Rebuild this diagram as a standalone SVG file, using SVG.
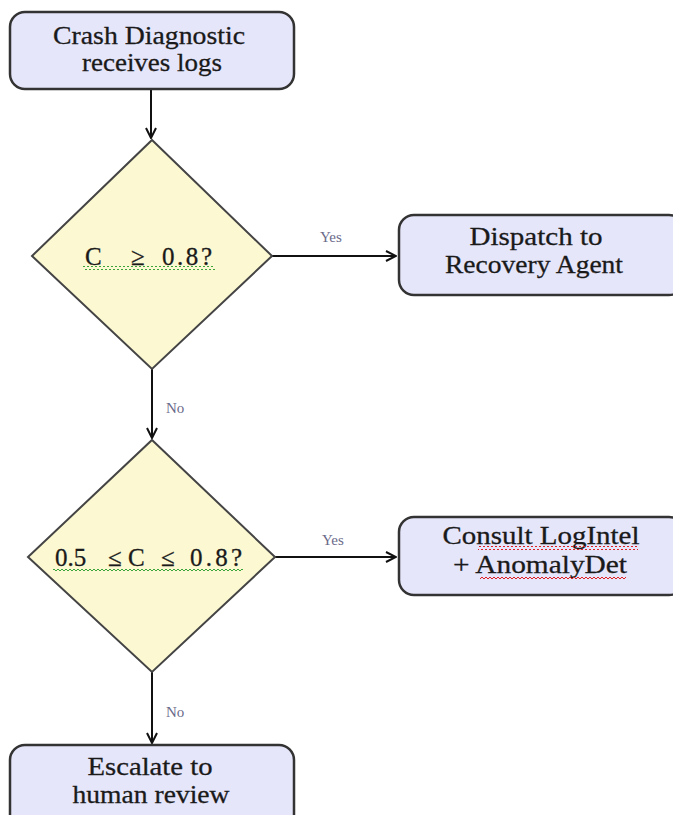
<svg xmlns="http://www.w3.org/2000/svg" width="673" height="815" viewBox="0 0 673 815">
  <style>
    .box { fill: #e6e6fb; stroke: #333; stroke-width: 2.5; }
    .dia { fill: #fbf8d2; stroke: #444; stroke-width: 2; }
    .lbl { font-family: "Liberation Serif", "Times New Roman", serif; font-size: 26px; fill: #1a1a1a; stroke: #1a1a1a; stroke-width: 0.3; text-anchor: middle; }
    .math { font-family: "Liberation Serif", "Times New Roman", serif; font-size: 25px; fill: #1a1a1a; stroke: #1a1a1a; stroke-width: 0.3; }
    .edge { font-family: "Liberation Serif", "Times New Roman", serif; font-size: 15px; fill: #6a6a8a; }
    .conn { stroke: #111; stroke-width: 2; fill: none; marker-end: url(#arrow); }
  </style>
  <defs>
    <marker id="arrow" viewBox="0 0 12 12" refX="11" refY="6" markerWidth="12" markerHeight="12" markerUnits="userSpaceOnUse" orient="auto">
      <path d="M1,1 L11,6 L1,11" fill="none" stroke="#111" stroke-width="2"/>
    </marker>
    <!-- wavy underlines -->
    <pattern id="waveG" width="4" height="4" patternUnits="userSpaceOnUse">
      <path d="M0,3 L2,1 L4,3" fill="none" stroke="#3aa33a" stroke-width="1"/>
    </pattern>
    <pattern id="waveR" width="4" height="4" patternUnits="userSpaceOnUse">
      <path d="M0,3 L2,1 L4,3" fill="none" stroke="#e02020" stroke-width="1"/>
    </pattern>
  </defs>

  <g id="connectors">
    <line class="conn" x1="151" y1="90" x2="151" y2="138"/>
    <line class="conn" x1="272" y1="256" x2="396" y2="256"/>
    <text class="edge" x="320" y="242">Yes</text>
    <line class="conn" x1="152" y1="369" x2="152" y2="438"/>
    <text class="edge" x="166" y="413">No</text>
    <line class="conn" x1="275" y1="557" x2="396" y2="557"/>
    <text class="edge" x="322" y="545">Yes</text>
    <line class="conn" x1="152" y1="672" x2="152" y2="743"/>
    <text class="edge" x="166" y="717">No</text>
  </g>

  <g id="start">
    <rect class="box" x="10" y="12" width="284" height="77" rx="15"/>
    <text class="lbl" x="149" y="44" textLength="192" lengthAdjust="spacingAndGlyphs">Crash Diagnostic</text>
    <text class="lbl" x="152" y="71" textLength="140" lengthAdjust="spacingAndGlyphs">receives logs</text>
  </g>

  <g id="decision-high">
    <polygon class="dia" points="152,140 272,256 152,369 32,256"/>
    <text class="math" y="265"><tspan x="85">C</tspan><tspan x="131">≥</tspan><tspan x="162" textLength="50" lengthAdjust="spacing">0.8?</tspan></text>
    <rect x="83" y="266" width="132" height="4" fill="url(#waveG)"/>
  </g>

  <g id="dispatch">
    <rect class="box" x="399" y="215" width="285" height="80" rx="15"/>
    <text class="lbl" x="536" y="245" textLength="133" lengthAdjust="spacingAndGlyphs">Dispatch to</text>
    <text class="lbl" x="534" y="273" textLength="178" lengthAdjust="spacingAndGlyphs">Recovery Agent</text>
  </g>

  <g id="decision-mid">
    <polygon class="dia" points="152,440 275,557 152,672 28,557"/>
    <text class="math" y="566"><tspan x="55">0.5</tspan><tspan x="108">≤</tspan><tspan x="128">C</tspan><tspan x="161">≤</tspan><tspan x="190" textLength="52" lengthAdjust="spacing">0.8?</tspan></text>
    <rect x="53" y="567" width="190" height="4" fill="url(#waveG)"/>
  </g>

  <g id="consult">
    <rect class="box" x="399" y="517" width="285" height="78" rx="15"/>
    <text class="lbl" x="541" y="544" textLength="197" lengthAdjust="spacingAndGlyphs">Consult LogIntel</text>
    <text class="lbl" x="540" y="573" textLength="174" lengthAdjust="spacingAndGlyphs">+ AnomalyDet</text>
    <rect x="478" y="546" width="160" height="4" fill="url(#waveR)"/>
    <rect x="480" y="575" width="146" height="4" fill="url(#waveR)"/>
  </g>

  <g id="escalate">
    <rect class="box" x="10" y="745" width="284" height="90" rx="15"/>
    <text class="lbl" x="150" y="775" textLength="125" lengthAdjust="spacingAndGlyphs">Escalate to</text>
    <text class="lbl" x="151" y="803" textLength="157" lengthAdjust="spacingAndGlyphs">human review</text>
  </g>
</svg>
